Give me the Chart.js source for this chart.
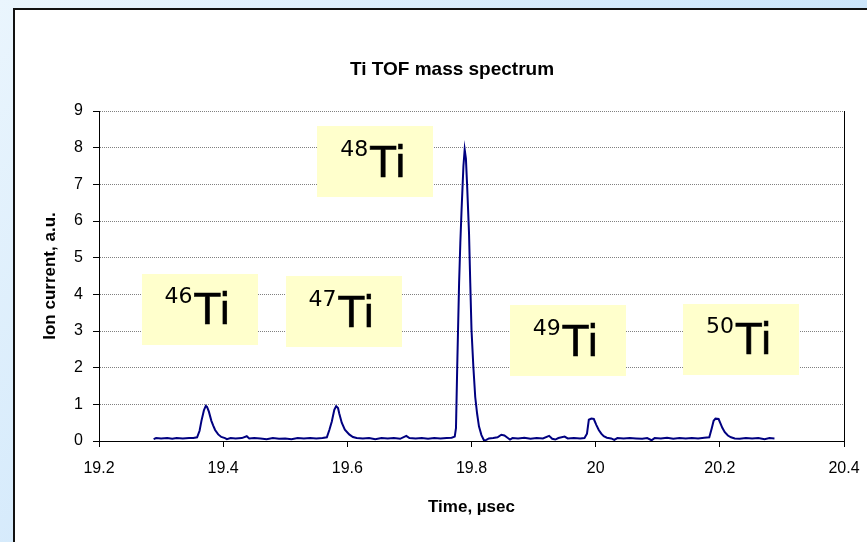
<!DOCTYPE html>
<html>
<head>
<meta charset="utf-8">
<title>Ti TOF mass spectrum</title>
<script src="https://cdn.jsdelivr.net/npm/chart.js@4.4.1/dist/chart.umd.min.js"></script>
<style>
  html, body { margin: 0; padding: 0; }
  body {
    width: 867px; height: 542px; overflow: hidden; position: relative;
    background: linear-gradient(135deg, #eaf5fd 0%, #d3e9fb 45%, #bcdcf8 100%);
  }
  #frame {
    position: absolute; left: 13px; top: 8px; width: 880px; height: 560px;
    background: #fff; border: 2px solid #111; box-sizing: border-box;
  }
  #tofChart { position: absolute; left: 0; top: 0; }
</style>
</head>
<body>
<div id="frame"></div>
<canvas id="tofChart" width="867" height="542"></canvas>
<script>
// time of flight, microseconds
const timeUs = [
  19.288, 19.292, 19.300, 19.310, 19.318, 19.325, 19.335, 19.345, 19.352, 19.358,
  19.362, 19.365, 19.369, 19.372, 19.374, 19.377, 19.381, 19.384, 19.387, 19.392,
  19.397, 19.403, 19.406, 19.412, 19.420, 19.430, 19.438, 19.442, 19.450, 19.460,
  19.470, 19.480, 19.490, 19.500, 19.510, 19.520, 19.530, 19.540, 19.550, 19.560,
  19.567, 19.571, 19.575, 19.579, 19.582, 19.585, 19.587, 19.591, 19.596, 19.603,
  19.609, 19.615, 19.625, 19.635, 19.645, 19.655, 19.665, 19.675, 19.685, 19.695,
  19.700, 19.710, 19.720, 19.730, 19.740, 19.750, 19.760, 19.768, 19.773, 19.775,
  19.777, 19.780, 19.782, 19.784, 19.787, 19.789, 19.791, 19.793, 19.796, 19.798,
  19.800, 19.803, 19.806, 19.809, 19.812, 19.816, 19.820, 19.824, 19.828, 19.835,
  19.842, 19.848, 19.853, 19.858, 19.862, 19.866, 19.875, 19.885, 19.895, 19.905,
  19.915, 19.925, 19.930, 19.935, 19.940, 19.950, 19.955, 19.965, 19.975, 19.982,
  19.986, 19.989, 19.993, 19.997, 20.001, 20.005, 20.009, 20.013, 20.018, 20.025,
  20.030, 20.035, 20.045, 20.055, 20.065, 20.075, 20.083, 20.090, 20.095, 20.105,
  20.115, 20.125, 20.135, 20.145, 20.155, 20.165, 20.175, 20.183, 20.187, 20.190,
  20.193, 20.198, 20.201, 20.204, 20.208, 20.213, 20.218, 20.224, 20.232, 20.242,
  20.252, 20.262, 20.272, 20.280, 20.288
];

// ion current, a.u.
const ionCurrent = [
  0.05, 0.08, 0.07, 0.08, 0.06, 0.08, 0.07, 0.08, 0.08, 0.10,
  0.28, 0.55, 0.84, 0.96, 0.93, 0.80, 0.55, 0.42, 0.30, 0.18,
  0.11, 0.08, 0.05, 0.08, 0.07, 0.08, 0.13, 0.07, 0.08, 0.07,
  0.05, 0.08, 0.06, 0.07, 0.05, 0.08, 0.07, 0.08, 0.07, 0.08,
  0.10, 0.30, 0.53, 0.85, 0.95, 0.90, 0.75, 0.50, 0.31, 0.18,
  0.11, 0.08, 0.07, 0.08, 0.05, 0.08, 0.07, 0.08, 0.06, 0.14,
  0.08, 0.07, 0.08, 0.06, 0.08, 0.07, 0.08, 0.09, 0.12, 0.35,
  2.02, 4.30, 5.40, 6.30, 7.50, 7.95, 7.70, 6.95, 5.67, 4.31,
  3.03, 2.02, 1.20, 0.75, 0.40, 0.16, 0.02, 0.03, 0.07, 0.08,
  0.10, 0.17, 0.15, 0.09, 0.04, 0.08, 0.07, 0.09, 0.06, 0.08,
  0.07, 0.14, 0.06, 0.04, 0.08, 0.12, 0.07, 0.08, 0.07, 0.08,
  0.20, 0.58, 0.61, 0.60, 0.44, 0.30, 0.20, 0.13, 0.09, 0.07,
  0.03, 0.08, 0.07, 0.08, 0.07, 0.06, 0.08, 0.02, 0.08, 0.07,
  0.09, 0.06, 0.08, 0.07, 0.08, 0.07, 0.09, 0.10, 0.35, 0.55,
  0.61, 0.60, 0.48, 0.36, 0.24, 0.15, 0.10, 0.07, 0.06, 0.08,
  0.07, 0.08, 0.05, 0.08, 0.07
];

const xTicks = [19.2, 19.4, 19.6, 19.8, 20.0, 20.2, 20.4];
const yTicks = [0, 1, 2, 3, 4, 5, 6, 7, 8, 9];

// isotope mass numbers for the yellow label boxes
const isotopeMass = ['46', '47', '48', '49', '50'];
// where each label box sits, in axis units (time, current)
const labelTime = [19.362, 19.594, 19.645, 19.955, 20.234];
const labelLevel = [3.59, 3.53, 7.62, 2.73, 2.77];

const chartTitle = 'Ti TOF mass spectrum';

Chart.defaults.font.family = "Arial, 'Liberation Sans', sans-serif";
Chart.defaults.color = '#000';

// yellow boxes with the isotope names
const isotopeLabels = {
  id: 'isotopeLabels',
  beforeDatasetsDraw(chart) {
    const { ctx, scales: { x, y } } = chart;
    const boxW = 116, boxH = 71;
    const supFont = "22px 'Comic Sans MS', 'DejaVu Sans', sans-serif";
    const mainFont = "42px 'Comic Sans MS', 'DejaVu Sans', sans-serif";
    ctx.save();
    isotopeMass.forEach((mass, i) => {
      const cx = x.getPixelForValue(labelTime[i]);
      const cy = y.getPixelForValue(labelLevel[i]);
      ctx.fillStyle = '#ffffcc';
      ctx.fillRect(Math.round(cx - boxW / 2), Math.round(cy - boxH / 2), boxW, boxH);

      ctx.fillStyle = '#000';
      ctx.strokeStyle = '#000';
      ctx.textAlign = 'left';
      ctx.textBaseline = 'alphabetic';
      ctx.font = supFont;
      const supW = ctx.measureText(mass).width;
      ctx.font = mainFont;
      const mainW = ctx.measureText('Ti').width;
      const left = cx - (supW + mainW + 2) / 2 - 2;
      ctx.font = supFont;
      ctx.fillText(mass, left, cy - 6);
      ctx.font = mainFont;
      ctx.lineWidth = 0.6;
      ctx.fillText('Ti', left + supW + 2, cy + 15);
      ctx.strokeText('Ti', left + supW + 2, cy + 15);
    });
    ctx.restore();
  }
};

// chart title (centred on the whole frame) and right edge of the plot area
const plotFrame = {
  id: 'plotFrame',
  afterDraw(chart) {
    const { ctx, chartArea: a } = chart;
    ctx.save();
    ctx.strokeStyle = '#000';
    ctx.lineWidth = 1;
    ctx.beginPath();
    ctx.moveTo(Math.round(a.right) + 0.5, a.top);
    ctx.lineTo(Math.round(a.right) + 0.5, a.bottom);
    ctx.stroke();

    ctx.fillStyle = '#000';
    ctx.font = "bold 19px Arial, 'Liberation Sans', sans-serif";
    ctx.textAlign = 'center';
    ctx.textBaseline = 'middle';
    ctx.fillText(chartTitle, 452, 70);
    ctx.restore();
  }
};

const ctx = document.getElementById('tofChart').getContext('2d');
new Chart(ctx, {
  type: 'line',
  data: {
    datasets: [{
      label: 'Ti',
      data: timeUs.map((t, i) => ({ x: t, y: ionCurrent[i] })),
      borderColor: '#000080',
      borderWidth: 2,
      pointRadius: 0,
      tension: 0,
      fill: false
    }]
  },
  options: {
    responsive: false,
    animation: false,
    layout: { padding: { left: 14, right: 23, top: 111, bottom: 0 } },
    plugins: {
      legend: { display: false },
      tooltip: { enabled: false },
      title: { display: false }
    },
    scales: {
      x: {
        type: 'linear',
        min: 19.2,
        max: 20.4,
        afterBuildTicks: s => { s.ticks = xTicks.map(v => ({ value: v })); },
        afterFit: s => { s.height = 101; s.paddingLeft = 0; s.paddingRight = 0; },
        ticks: {
          font: { size: 16 },
          padding: 12,
          maxRotation: 0,
          callback: v => String(Number(v.toFixed(1)))
        },
        grid: { drawOnChartArea: false, drawTicks: true, tickLength: 6, tickColor: '#000' },
        border: { color: '#000', width: 1 },
        title: {
          display: true,
          text: 'Time, \u00b5sec',
          font: { size: 17, weight: 'bold' },
          padding: { top: 0, bottom: 24 }
        }
      },
      y: {
        min: 0,
        max: 9,
        afterBuildTicks: s => { s.ticks = yTicks.map(v => ({ value: v })); },
        afterFit: s => { s.width = 85; },
        ticks: { font: { size: 16 }, padding: 10 },
        grid: { color: '#808080', lineWidth: 1, tickLength: 6, tickColor: '#000' },
        border: { color: '#000', width: 1, dash: [1, 1] },
        title: {
          display: true,
          text: 'Ion current, a.u.',
          font: { size: 17, weight: 'bold' },
          padding: { top: 26, bottom: 0 }
        }
      }
    }
  },
  plugins: [isotopeLabels, plotFrame]
});
</script>
</body>
</html>
